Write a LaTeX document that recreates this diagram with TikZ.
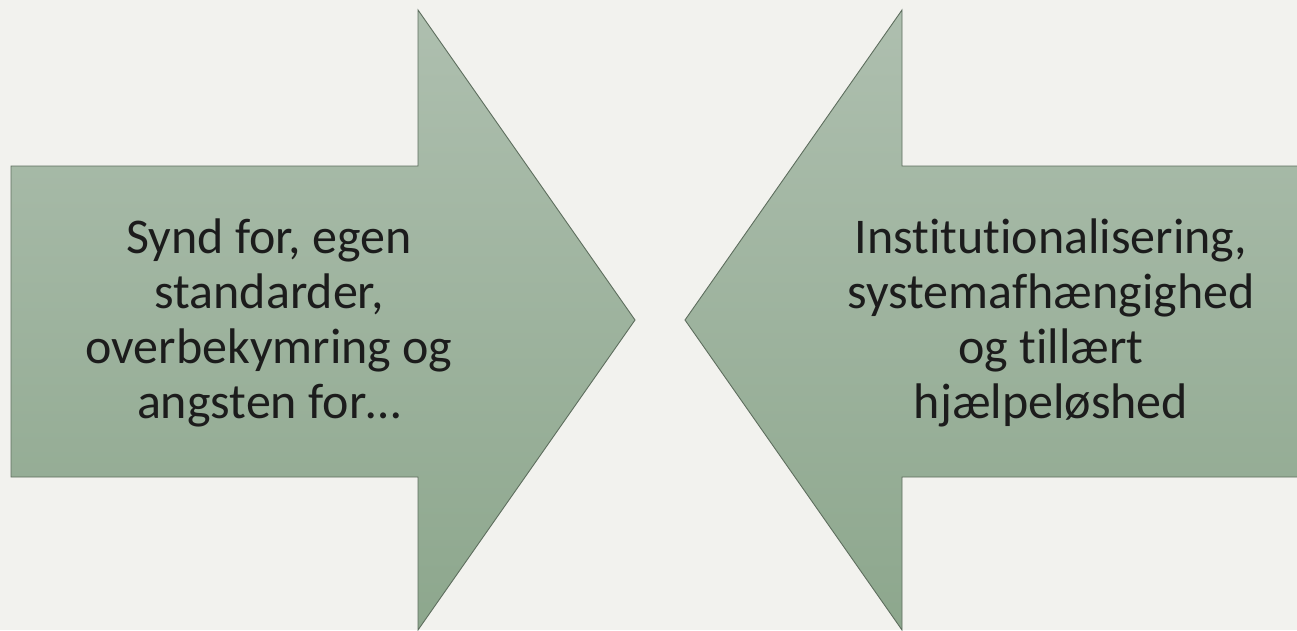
\documentclass[tikz,border=0pt]{standalone}
\usepackage{fontspec}
\setmainfont{Carlito}[Ligatures={NoCommon,NoRare,NoContextual}]
\definecolor{bgcol}{HTML}{F2F2EE}
\definecolor{arrtop}{HTML}{AEBFAF}
\definecolor{arrbot}{HTML}{8DA78D}
\definecolor{arredge}{HTML}{5E6E5E}
\definecolor{txtcol}{HTML}{1C1C1C}
\begin{document}
\begin{tikzpicture}[x=1pt,y=-1pt,
  bigarrow/.style={top color=arrtop,bottom color=arrbot,draw=arredge,line width=0.9pt,line join=miter},
  arrowtext/.style={align=center,inner sep=0pt,anchor=base,text=txtcol,
    font=\fontsize{50}{55}\selectfont}]
  \useasboundingbox (0,0) rectangle (1297,630);
  \fill[bgcol] (0,0) rectangle (1297,630);
  \begin{scope}
    \clip (0,0) rectangle (1297,630);
    % arrow pointing right
    \shadedraw[bigarrow] (11,166) -- (418,166) -- (418,10) -- (635,320)
      -- (418,630) -- (418,477) -- (11,477) -- cycle;
    % arrow pointing left, its shaft running off the right edge
    \shadedraw[bigarrow] (1310,166) -- (902,166) -- (902,10) -- (685,320)
      -- (902,630) -- (902,477) -- (1310,477) -- cycle;
  \end{scope}
  % the base anchor sits on the last line's baseline
  \node[arrowtext] (lefttext) at (269,418)
    {Synd for, egen\\standarder,\\overbekymring og\\angsten for…};
  \node[arrowtext] (righttext) at (1051,418)
    {Institutionalisering,\\systemafhængighed\\og tillært\\hjælpeløshed};
\end{tikzpicture}
\end{document}
